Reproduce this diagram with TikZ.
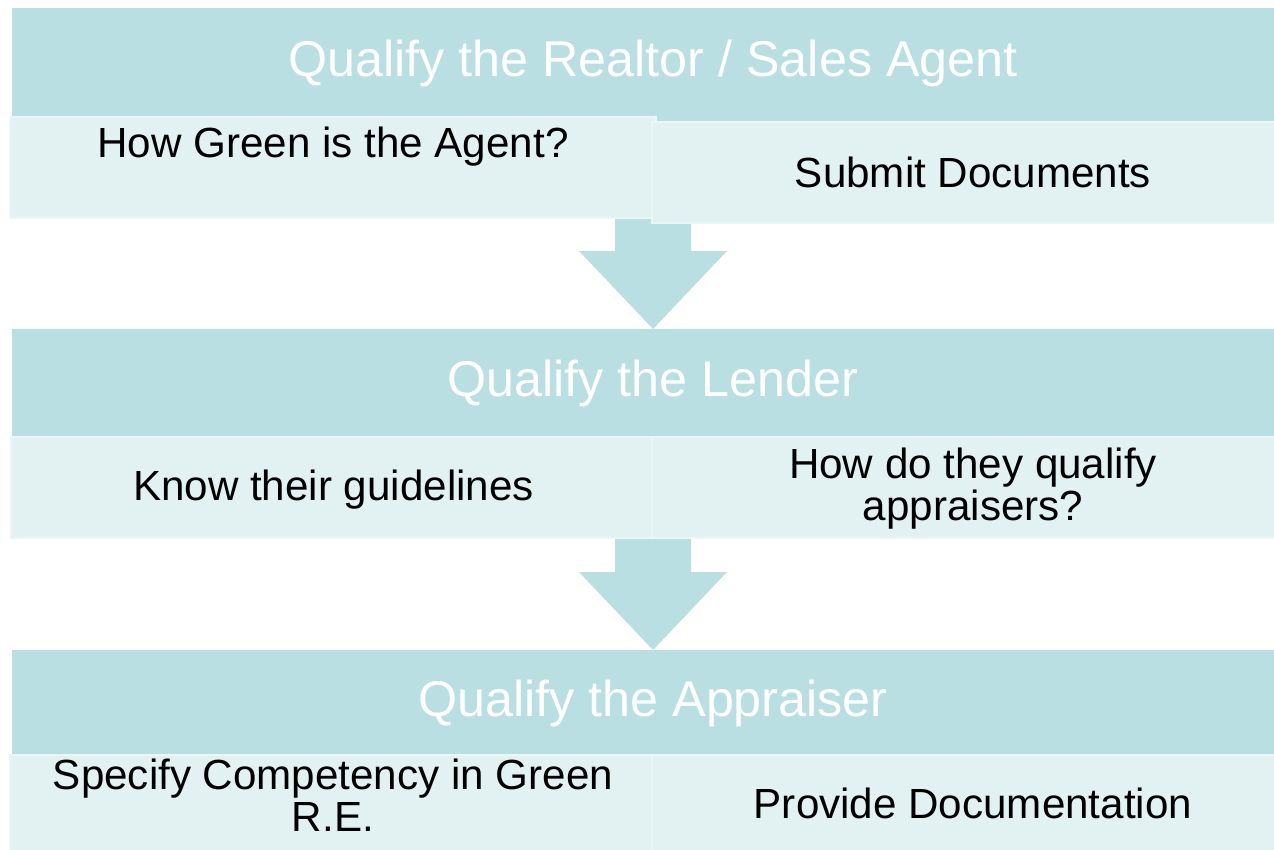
\documentclass[tikz,border=0pt]{standalone}
\usepackage{fontspec}
\setmainfont{Liberation Sans}
\usetikzlibrary{positioning,calc}
\definecolor{flowBarFill}{HTML}{BADFE2}
\definecolor{flowBoxFill}{HTML}{E2F1F2}
\definecolor{flowBoxLine}{HTML}{EBF6F7}

\def\px{0.02cm}            % one unit of the grid

\tikzset{
  headbar/.style={fill=flowBarFill, inner sep=0pt, outer sep=0pt, anchor=north west,
    minimum width=1282*\px},
  headtext/.style={text=white, inner sep=0pt, font=\fontsize{28.6}{30}\selectfont},
  subbox/.style={fill=flowBoxFill, draw=flowBoxLine, line width=1.4pt,
    inner sep=0pt, outer sep=0pt, anchor=north west, minimum height=101*\px},
  subtext/.style={align=center, inner sep=0pt, font=\fontsize{24}{24}\selectfont}
}

% block arrow from the bottom of one bar to the top of the next
\newcommand{\blockArrow}[2]{%
  \fill[flowBarFill] ($(#1)+(-38,0)$) -- ($(#1)+(38,0)$) -- ($(#2)+(38,-78)$)
    -- ($(#2)+(74,-78)$) -- (#2) -- ($(#2)+(-74,-78)$) -- ($(#2)+(-38,-78)$) -- cycle;}

\begin{document}
\begin{tikzpicture}[x=\px, y=-\px]

\useasboundingbox (0,0) rectangle (1274,849);

% --- STAGE BARS (the first one runs on under the offset right box) ---
\foreach \nm/\y/\h/\dy/\txt in {realtor/8/114/-1/{Qualify the Realtor / Sales Agent},
                                lender/329/108/0/{Qualify the Lender},
                                appraiser/650/105/1/{Qualify the Appraiser}} {
  \node[headbar, minimum height=\h*\px] (\nm) at (12,\y) {};
  \node[headtext] (\nm-txt) at ($(\nm)+(0,\dy)$) {\txt};
}

% --- ARROWS BETWEEN STAGES (under the sub boxes) ---
\blockArrow{realtor.south}{lender.north}
\blockArrow{lender.south}{appraiser.north}

% --- SUB BOXES (left / right under each bar) ---
\foreach \nm/\x/\y/\w in {realtorL/10/117/646, realtorR/652/122/642,
                          lenderL/11/437/645, lenderR/652/437/642,
                          appraiserL/10/755/646, appraiserR/652/755/642} {
  \node[subbox, minimum width=\w*\px] (\nm) at (\x,\y) {};
}

% --- SUB BOX TEXTS (dy nudges the text inside its box) ---
\foreach \nm/\dy/\txt in {realtorL/-21/{How Green is the Agent?},
                          realtorR/0/{Submit Documents},
                          lenderL/2/{Know their guidelines},
                          lenderR/1/{How do they qualify\\ appraisers?},
                          appraiserL/-10/{Specify Competency in Green\\ R.E.},
                          appraiserR/-2/{Provide Documentation}} {
  \node[subtext] (\nm-txt) at ($(\nm)+(0,\dy)$) {\txt};
}

\end{tikzpicture}
\end{document}
